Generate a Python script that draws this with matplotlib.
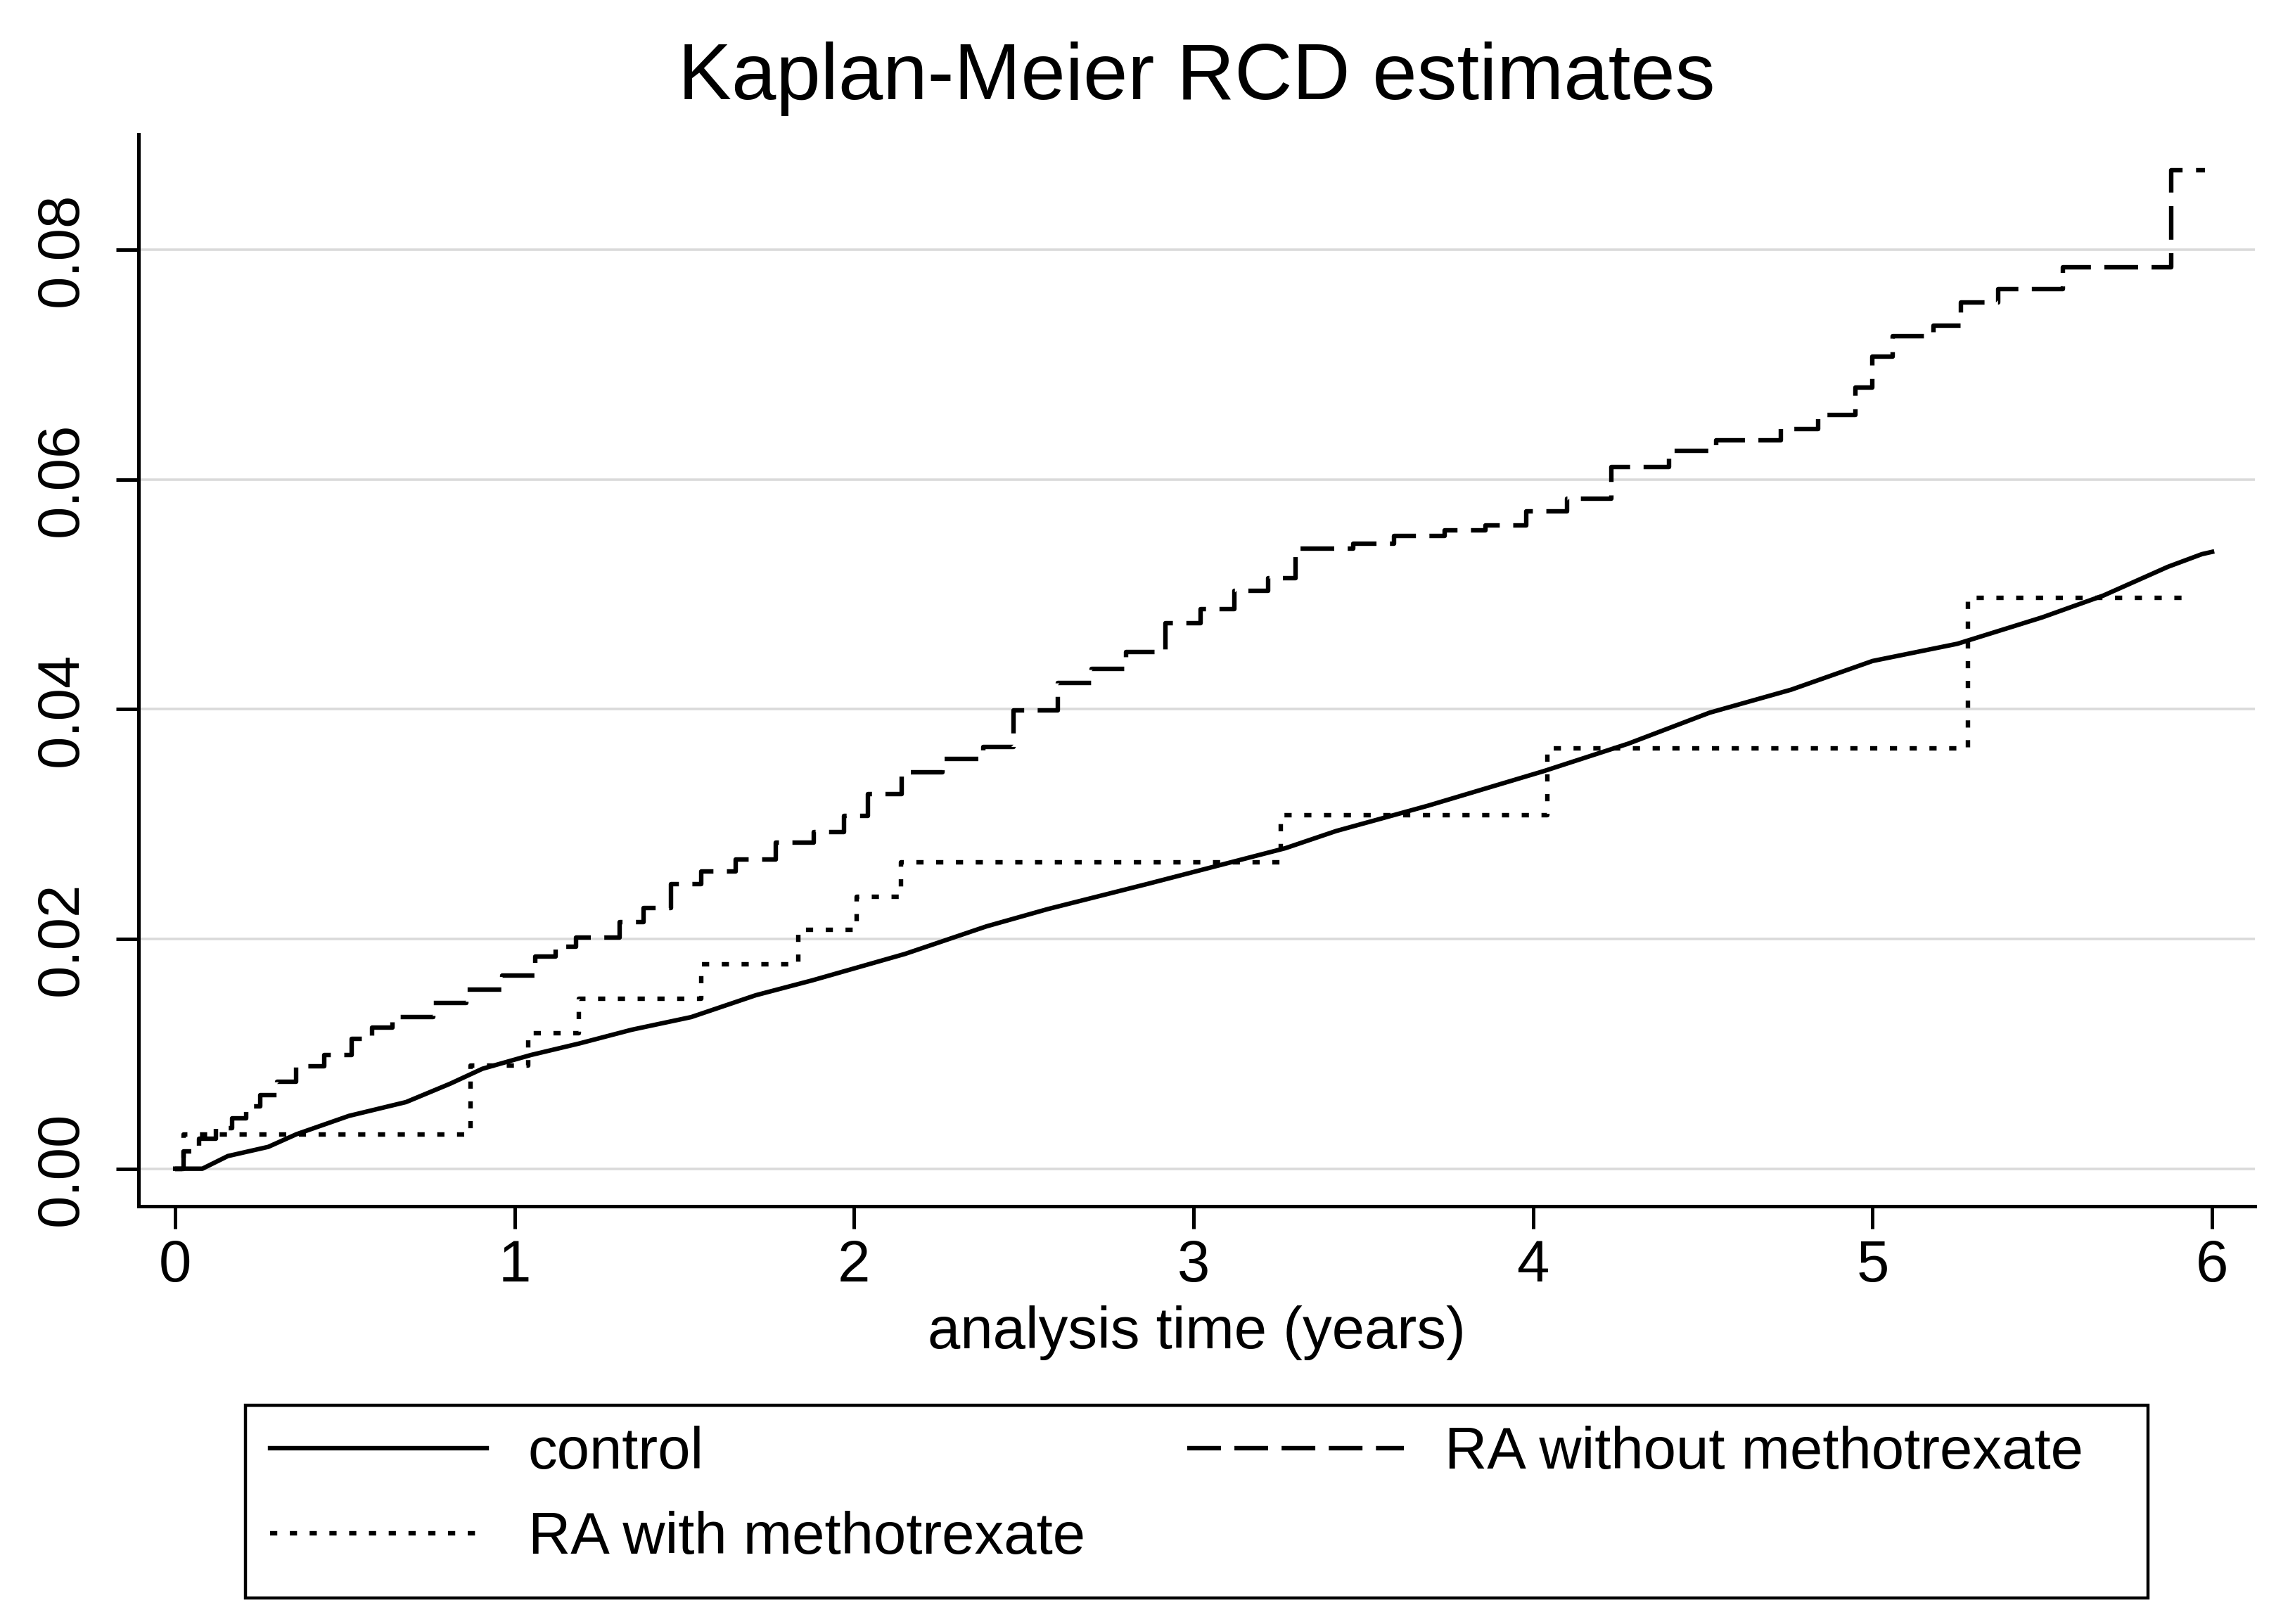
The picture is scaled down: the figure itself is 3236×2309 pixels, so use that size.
# -----------------------------
# SETUP
# -----------------------------
import numpy as np
import matplotlib
matplotlib.use("Agg")
import matplotlib.pyplot as plt
from matplotlib.patches import Rectangle

plt.rcParams["font.family"] = ["Liberation Sans", "DejaVu Sans"]

# -----------------------------
# DATA
# -----------------------------
# control group, cumulative incidence
control_t = [0.0, 0.08, 0.155, 0.274, 0.357, 0.512, 0.68, 0.81, 0.905, 1.048,
             1.19, 1.345, 1.52, 1.71, 1.877, 2.15, 2.39, 2.57, 2.865, 3.10,
             3.27, 3.42, 3.69, 4.03, 4.28, 4.52, 4.76, 5.0, 5.25, 5.5,
             5.68, 5.87, 5.97, 6.0]
control_y = [0.0, 0.0, 0.0011, 0.0019, 0.0030, 0.0046, 0.0058, 0.0074, 0.0087, 0.0099,
             0.0109, 0.0121, 0.0132, 0.0151, 0.0164, 0.0187, 0.0211, 0.0226, 0.0248, 0.0266,
             0.0279, 0.0294, 0.0316, 0.0346, 0.0370, 0.0397, 0.0417, 0.0442, 0.0457, 0.0480,
             0.0499, 0.0524, 0.0535, 0.0537]

# RA with methotrexate (step function)
mtx_t = [0.0, 0.024, 0.87, 1.04, 1.19, 1.55, 1.835, 2.008, 2.138, 3.257, 4.041, 5.28, 5.94]
mtx_y = [0.0, 0.003, 0.009, 0.0118, 0.0148, 0.0178, 0.0208, 0.0237, 0.0267, 0.0308, 0.0366, 0.0497, 0.0497]

# RA without methotrexate (step function)
nomtx_t = [0.0, 0.024, 0.07, 0.12, 0.167, 0.21, 0.25, 0.30, 0.357, 0.44,
           0.52, 0.58, 0.64, 0.76, 0.857, 0.964, 1.06, 1.12, 1.18, 1.31,
           1.379, 1.46, 1.55, 1.65, 1.77, 1.88, 1.97, 2.04, 2.14, 2.26,
           2.38, 2.47, 2.6, 2.7, 2.8, 2.917, 3.02, 3.12, 3.22, 3.30,
           3.47, 3.59, 3.74, 3.86, 3.98, 4.10, 4.23, 4.40, 4.54, 4.73,
           4.84, 4.95, 5.0, 5.06, 5.18, 5.26, 5.37, 5.56, 5.88, 5.98]
nomtx_y = [0.0, 0.0015, 0.0026, 0.0035, 0.0044, 0.0054, 0.0064, 0.0076, 0.0089, 0.0099,
           0.0113, 0.0123, 0.0132, 0.0144, 0.0156, 0.0168, 0.0185, 0.0193, 0.0201, 0.0215,
           0.0227, 0.0248, 0.0259, 0.0269, 0.0284, 0.0293, 0.0307, 0.0326, 0.0345, 0.0357,
           0.0367, 0.0399, 0.0423, 0.0435, 0.0450, 0.0475, 0.0487, 0.0503, 0.0514, 0.0540,
           0.0544, 0.0551, 0.0556, 0.0560, 0.0572, 0.0583, 0.0611, 0.0625, 0.0634, 0.0644,
           0.0656, 0.0680, 0.0707, 0.0725, 0.0734, 0.0754, 0.0766, 0.0785, 0.0869, 0.0869]

y_ticks = [0.0, 0.02, 0.04, 0.06, 0.08]
x_ticks = [0, 1, 2, 3, 4, 5, 6]

# -----------------------------
# PLOT
# -----------------------------
fig = plt.figure(figsize=(16.185, 11.545), dpi=200)
ax = fig.add_axes([0.0609, 0.2573, 0.9295, 0.66])

lw = 2.3
l_ctrl, = ax.plot(control_t, control_y, color="black", lw=lw, label="control")
l_mtx, = ax.plot(mtx_t, mtx_y, color="black", lw=lw, drawstyle="steps-post",
                 linestyle=(0, (1.6, 2.8)), label="RA with methotrexate")
l_nomtx, = ax.plot(nomtx_t, nomtx_y, color="black", lw=lw, drawstyle="steps-post",
                   linestyle=(0, (7.5, 3.0)), label="RA without methotrexate")

ax.set_xlim(-0.1077, 6.126)
ax.set_ylim(-0.00326, 0.09005)
ax.set_xticks(x_ticks)
ax.set_yticks(y_ticks)
ax.set_yticklabels([f"{v:.2f}" for v in y_ticks])

# horizontal grid only
for v in y_ticks:
    ax.axhline(v, color="#dadada", lw=1.3, zorder=0)

for s in ["top", "right"]:
    ax.spines[s].set_visible(False)
for s in ["left", "bottom"]:
    ax.spines[s].set_linewidth(1.8)

ax.tick_params(axis="both", length=11.5, width=1.8, labelsize=30)
ax.tick_params(axis="x", pad=5)
ax.tick_params(axis="y", pad=14, labelrotation=90)
for lab in ax.get_yticklabels():
    lab.set_va("center")

ax.set_title("Kaplan-Meier RCD estimates", fontsize=41, pad=18)
ax.set_xlabel("analysis time (years)", fontsize=30, va="center")
ax.xaxis.set_label_coords(0.5, -0.118)

# legend: entries without frame, box drawn separately
leg = fig.legend([l_ctrl, l_mtx, l_nomtx],
                 ["control", "RA with methotrexate", "RA without methotrexate"],
                 ncol=2, loc="upper left", bbox_to_anchor=(0.1186, 0.1222),
                 fontsize=30, frameon=False,
                 handlelength=3.7, handletextpad=0.7, labelspacing=0.52,
                 columnspacing=1.74, borderpad=0, borderaxespad=0)
fig.add_artist(Rectangle((0.1077, 0.0162), 0.8359, 0.1186, transform=fig.transFigure,
                         fill=False, edgecolor="black", lw=1.6))

fig.savefig("out.png", dpi=200, facecolor="white")
